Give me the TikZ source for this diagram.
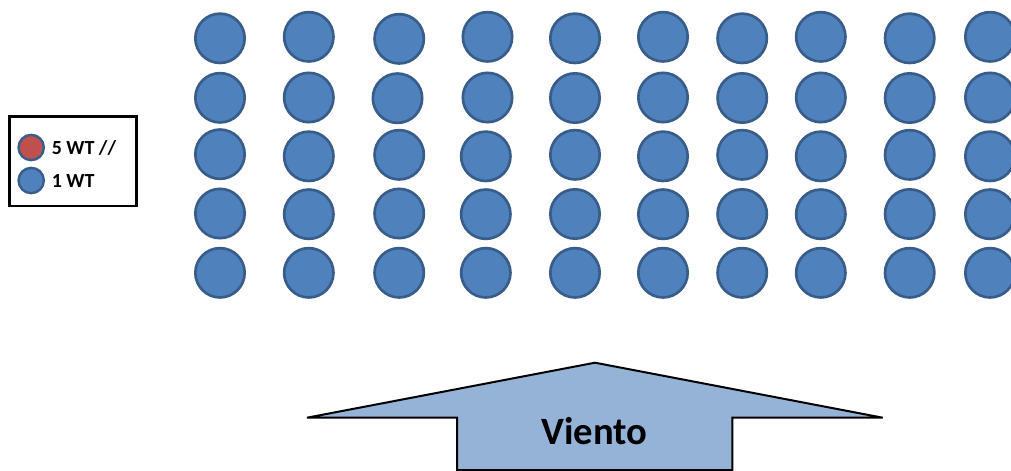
\documentclass[tikz,border=0pt]{standalone}
\usepackage{fontspec}
\setmainfont{Carlito}
\definecolor{wtfill}{HTML}{4F81BD}
\definecolor{wtline}{HTML}{385D8A}
\definecolor{wtred}{HTML}{C0504D}
\definecolor{windfill}{HTML}{95B3D7}
\tikzset{
  turbine/.style={circle, draw=wtline, fill=wtfill, line width=2pt, minimum size=37pt, inner sep=0pt},
  keydot/.style={circle, draw=wtline, line width=1.8pt, minimum size=19pt, inner sep=0pt},
  keytext/.style={anchor=base west, inner sep=0pt, font=\fontsize{15}{17}\selectfont\bfseries},
}
\begin{document}
\begin{tikzpicture}[x=0.75pt, y=-0.75pt]
  \useasboundingbox (0,0) rectangle (1011,471);

  % legend
  \draw[line width=2pt] (9.3,116.7) rectangle (136.7,206);
  \node[keydot, fill=wtred] (k5) at (31.2,147.5) {};
  \node[keydot, fill=wtfill] (k1) at (31.2,180.5) {};
  \node[keytext] (t5) at (51.5,154) {5 WT //};
  \node[keytext] (t1) at (51.5,187.3) {1 WT};

  % wind farm layout: ten columns, five rows
  \foreach \x/\y/\n in {
    220/38.3/a1, 220/97.8/a2, 220/154.2/a3, 220/213.5/a4, 220/272.8/a5,
    308.8/36.8/b1, 308.8/97.5/b2, 308.8/156.3/b3, 308.8/214.2/b4, 308.8/272.8/b5,
    399.2/38.8/c1, 397.5/98.2/c2, 399.2/154.8/c3, 399.2/213.5/c4, 399.2/272.8/c5,
    487.5/36.8/d1, 487.5/97.5/d2, 485.8/156.3/d3, 485.8/214.2/d4, 485.8/272.8/d5,
    575/38.3/e1, 575/98/e2, 575/154.8/e3, 575/214/e4, 575/272.8/e5,
    663/36.8/f1, 663/97.5/f2, 663/156.3/f3, 663/214.2/f4, 663/272.8/f5,
    742.2/38.3/g1, 742.2/98/g2, 742.2/154.8/g3, 742.2/214/g4, 742.2/272.8/g5,
    820.8/36.8/h1, 820.8/97.5/h2, 820.8/156.3/h3, 820.8/214.2/h4, 820.8/272.8/h5,
    909.7/38.3/i1, 909.7/98/i2, 909.7/154.8/i3, 909.7/214/i4, 909.7/272.8/i5,
    990/36.8/j1, 990/97.5/j2, 990/156.3/j3, 990/214.2/j4, 990/272.8/j5}
    \node[turbine] (\n) at (\x,\y) {};

  % wind direction arrow
  \draw[line width=1.5pt, fill=windfill, line join=miter]
    (457,470) -- (457,417.7) -- (307,417.7) -- (595,362.7)
    -- (882.7,417.7) -- (732.3,417.7) -- (732.3,470) -- cycle;
  \node[anchor=base, inner sep=0pt, font=\fontsize{29}{32}\selectfont\bfseries] (wind) at (594.5,444) {Viento};
\end{tikzpicture}
\end{document}
